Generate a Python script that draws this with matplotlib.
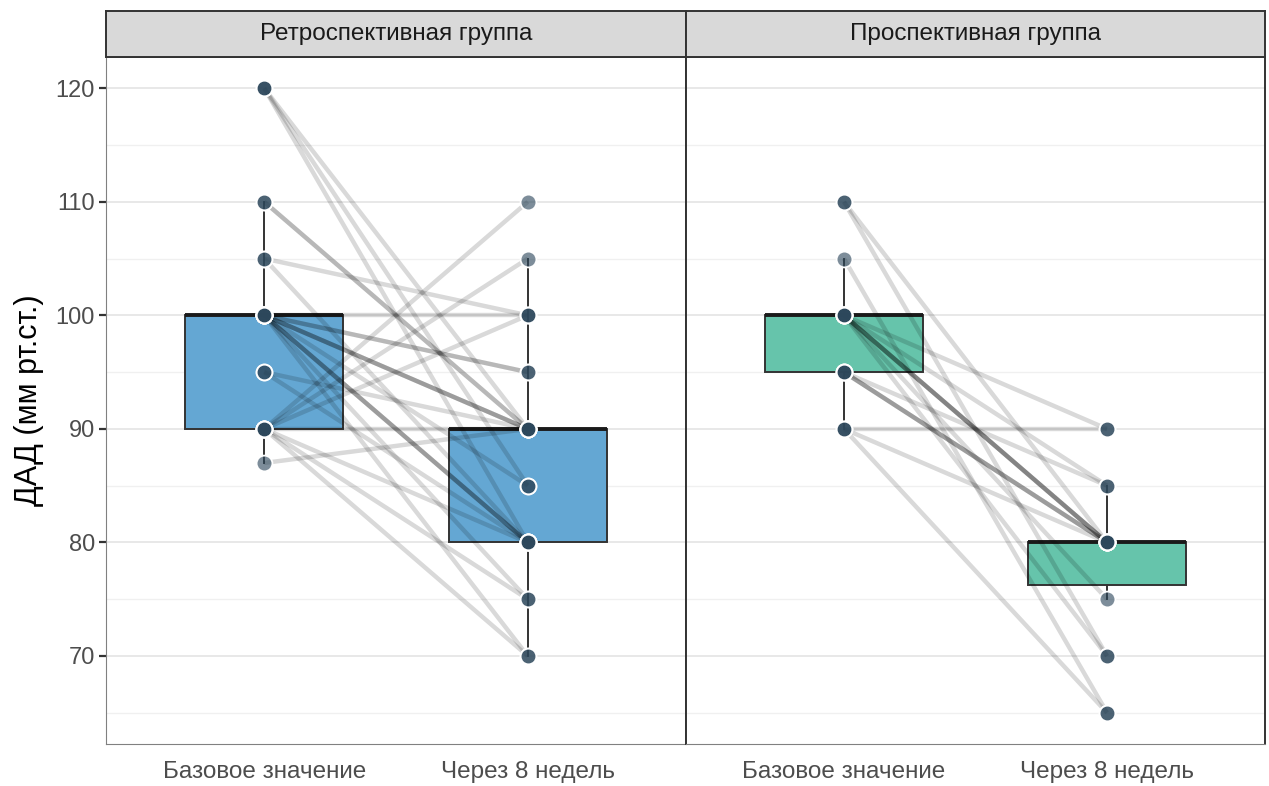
import numpy as np
import matplotlib
matplotlib.use('Agg')
import matplotlib.pyplot as plt

plt.rcParams['font.family'] = ['Liberation Sans Narrow', 'Liberation Sans', 'DejaVu Sans']

groups = ['Ретроспективная группа', 'Проспективная группа']
timepoints = ['Базовое значение', 'Через 8 недель']

# ДАД по пациентам: базовое значение и через 8 недель (пары по индексу)
retro_base = [120, 120, 120, 110, 110, 105, 105,
              100, 100, 100, 100, 100, 100, 100, 100, 100, 100, 100, 100,
              95, 95,
              90, 90, 90, 90, 90, 90, 90,
              87]
retro_week8 = [90, 85, 80, 90, 90, 100, 80,
               100, 95, 90, 90, 90, 85, 80, 80, 80, 75, 70, 95,
               90, 80,
               110, 105, 100, 90, 80, 70, 75,
               90]

prosp_base = [110, 110, 105,
              100, 100, 100, 100, 100, 100, 100, 100,
              95, 95, 95, 95,
              90, 90, 90]
prosp_week8 = [80, 70, 65,
               80, 80, 80, 80, 85, 90, 75, 70,
               80, 80, 80, 85,
               90, 80, 65]

box_colors = ['#64a7d3', '#66c4ab']
point_color = (0.176, 0.282, 0.361, 0.62)

fig = plt.figure(figsize=(12.69, 7.86), dpi=100)
W, H = 1269, 786
panels = [(106, 580), (686, 579)]
top, bottom, strip_top = 57, 744, 11

data = [(retro_base, retro_week8), (prosp_base, prosp_week8)]

for i, ((x0, w), (base, week8)) in enumerate(zip(panels, data)):
    ax = fig.add_axes([x0 / W, (H - bottom) / H, w / W, (bottom - top) / H])

    bp = ax.boxplot([base, week8], positions=[1, 2], widths=0.6, whis=1.5,
                    patch_artist=True, showfliers=False, showcaps=False,
                    boxprops=dict(facecolor=box_colors[i], edgecolor='#333333', linewidth=1.4),
                    whiskerprops=dict(color='#333333', linewidth=1.4),
                    medianprops=dict(color='#1a1a1a', linewidth=2.8),
                    zorder=2)

    # линии, соединяющие измерения одного пациента
    for b, v in zip(base, week8):
        ax.plot([1, 2], [b, v], color='black', alpha=0.15, lw=3.2,
                solid_capstyle='butt', zorder=3)

    ax.scatter(np.ones(len(base)), base, s=130, facecolors=[point_color],
               edgecolors='white', linewidths=1.3, zorder=4)
    ax.scatter(np.full(len(week8), 2), week8, s=130, facecolors=[point_color],
               edgecolors='white', linewidths=1.3, zorder=4)

    ax.set_xlim(0.4, 2.6)
    ax.set_ylim(62.25, 122.75)
    ax.set_yticks(np.arange(70, 121, 10))
    ax.set_yticks(np.arange(65, 121, 10), minor=True)
    ax.grid(axis='y', which='major', color='#e8e8e8', lw=1.4, zorder=0)
    ax.grid(axis='y', which='minor', color='#f0f0f0', lw=1.0, zorder=0)
    ax.set_axisbelow(True)
    ax.set_xticks([1, 2])
    ax.set_xticklabels(timepoints, fontsize=17.5, color='#4d4d4d')
    ax.tick_params(axis='x', length=0, pad=12)
    ax.tick_params(axis='y', which='minor', length=0)

    for side in ['left', 'bottom']:
        ax.spines[side].set_color('#808080')
    for side in ['right', 'top']:
        ax.spines[side].set_color('#333333')
        ax.spines[side].set_linewidth(1.4)
    if i == 0:
        ax.tick_params(axis='y', length=5, width=1.6, color='#333333',
                       labelsize=17, labelcolor='#4d4d4d', pad=3)
        ax.set_ylabel('ДАД (мм рт.ст.)', fontsize=22, color='black', labelpad=8)
    else:
        ax.spines['left'].set_color('#333333')
        ax.spines['left'].set_linewidth(1.4)
        ax.tick_params(axis='y', length=0, labelleft=False)

    # заголовок фасета
    sax = fig.add_axes([x0 / W, (H - top) / H, w / W, (top - strip_top) / H])
    sax.set_facecolor('#d9d9d9')
    sax.set_xticks([])
    sax.set_yticks([])
    for s in sax.spines.values():
        s.set_color('#333333')
        s.set_linewidth(1.4)
    sax.text(0.5, 0.5, groups[i], ha='center', va='center', fontsize=17.5,
             color='#1a1a1a', transform=sax.transAxes)

fig.savefig('out.png', dpi=100)
